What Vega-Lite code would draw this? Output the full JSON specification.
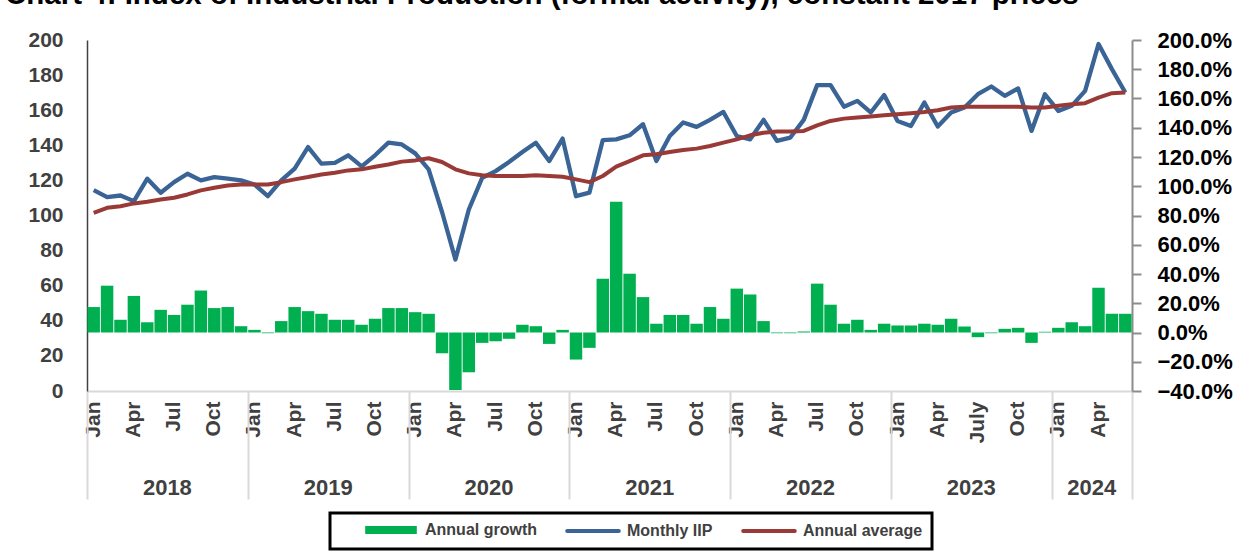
{
  "$schema": "https://vega.github.io/schema/vega-lite/v6.json",
  "width": 1045,
  "height": 351,
  "autosize": "none",
  "padding": {"left": 87, "top": 40, "right": 112, "bottom": 168},
  "background": "white",
  "title": {
    "text": "Chart 4: Index of Industrial Production (formal activity), constant 2017 prices",
    "anchor": "start", "frame": "group", "dx": -82, "dy": 12, "offset": 8,
    "baseline": "alphabetic", "font": "Liberation Sans", "fontSize": 29.5, "fontWeight": "bold", "color": "#000000"
  },
  "config": {"view": {"stroke": null}, "font": "Liberation Sans", "axis": {"grid": false}},
  "data": {"values": [
    {"k":"2018-01","iip":114.5,"avg":101.5,"g":17.4},
    {"k":"2018-02","iip":110.5,"avg":104.4,"g":32},
    {"k":"2018-03","iip":111.4,"avg":105.3,"g":8.7},
    {"k":"2018-04","iip":108.2,"avg":106.9,"g":25},
    {"k":"2018-05","iip":121,"avg":107.8,"g":7},
    {"k":"2018-06","iip":113,"avg":109.1,"g":15.5},
    {"k":"2018-07","iip":119,"avg":110.1,"g":12},
    {"k":"2018-08","iip":123.8,"avg":112,"g":19},
    {"k":"2018-09","iip":120,"avg":114.3,"g":28.7},
    {"k":"2018-10","iip":121.9,"avg":115.8,"g":16.7},
    {"k":"2018-11","iip":121,"avg":117.1,"g":17.4},
    {"k":"2018-12","iip":120,"avg":117.7,"g":4.3},
    {"k":"2019-01","iip":117.7,"avg":117.7,"g":1.8},
    {"k":"2019-02","iip":111,"avg":117.7,"g":-0.5},
    {"k":"2019-03","iip":120,"avg":119,"g":7.8},
    {"k":"2019-04","iip":126.7,"avg":120.6,"g":17.4},
    {"k":"2019-05","iip":139,"avg":121.9,"g":14.6},
    {"k":"2019-06","iip":129.5,"avg":123.4,"g":12.8},
    {"k":"2019-07","iip":130,"avg":124.4,"g":8.7},
    {"k":"2019-08","iip":134.3,"avg":125.7,"g":8.7},
    {"k":"2019-09","iip":128,"avg":126.3,"g":5.3},
    {"k":"2019-10","iip":134.3,"avg":127.8,"g":9.4},
    {"k":"2019-11","iip":141.5,"avg":129.1,"g":16.7},
    {"k":"2019-12","iip":140.5,"avg":130.7,"g":16.7},
    {"k":"2020-01","iip":135.4,"avg":131.4,"g":13.9},
    {"k":"2020-02","iip":126.3,"avg":132.6,"g":12.8},
    {"k":"2020-03","iip":102,"avg":130.5,"g":-14.2},
    {"k":"2020-04","iip":74.9,"avg":126.3,"g":-39.3},
    {"k":"2020-05","iip":103.4,"avg":124,"g":-27.2},
    {"k":"2020-06","iip":121.5,"avg":122.9,"g":-7.1},
    {"k":"2020-07","iip":125.3,"avg":122.5,"g":-6},
    {"k":"2020-08","iip":130.5,"avg":122.5,"g":-4.3},
    {"k":"2020-09","iip":136.2,"avg":122.5,"g":5.3},
    {"k":"2020-10","iip":141.5,"avg":123,"g":4.3},
    {"k":"2020-11","iip":131,"avg":122.5,"g":-7.8},
    {"k":"2020-12","iip":143.8,"avg":122.1,"g":1.8},
    {"k":"2021-01","iip":111,"avg":120.6,"g":-18.5},
    {"k":"2021-02","iip":113,"avg":119,"g":-10.5},
    {"k":"2021-03","iip":143,"avg":122.5,"g":36.8},
    {"k":"2021-04","iip":143.4,"avg":127.8,"g":89.4},
    {"k":"2021-05","iip":145.7,"avg":131,"g":40.2},
    {"k":"2021-06","iip":152,"avg":134.3,"g":24.2},
    {"k":"2021-07","iip":131,"avg":134.9,"g":6},
    {"k":"2021-08","iip":145.3,"avg":136.2,"g":12},
    {"k":"2021-09","iip":153,"avg":137.3,"g":12},
    {"k":"2021-10","iip":150.5,"avg":138.1,"g":6},
    {"k":"2021-11","iip":154.5,"avg":139.6,"g":17.4},
    {"k":"2021-12","iip":159,"avg":141.5,"g":9.4},
    {"k":"2022-01","iip":145.3,"avg":143.4,"g":30},
    {"k":"2022-02","iip":143.4,"avg":145.7,"g":26},
    {"k":"2022-03","iip":154.5,"avg":147.2,"g":7.8},
    {"k":"2022-04","iip":142.5,"avg":147.8,"g":-0.5},
    {"k":"2022-05","iip":144.4,"avg":147.8,"g":-0.5},
    {"k":"2022-06","iip":154.5,"avg":148.2,"g":0.7},
    {"k":"2022-07","iip":174.3,"avg":151.4,"g":33.4},
    {"k":"2022-08","iip":174.3,"avg":153.9,"g":19},
    {"k":"2022-09","iip":162,"avg":155.2,"g":6},
    {"k":"2022-10","iip":165.3,"avg":155.8,"g":8.7},
    {"k":"2022-11","iip":158.7,"avg":156.4,"g":1.8},
    {"k":"2022-12","iip":168.6,"avg":157.1,"g":6},
    {"k":"2023-01","iip":153.9,"avg":157.7,"g":4.8},
    {"k":"2023-02","iip":151,"avg":158.3,"g":4.8},
    {"k":"2023-03","iip":164.4,"avg":159,"g":6},
    {"k":"2023-04","iip":150.7,"avg":160,"g":5.3},
    {"k":"2023-05","iip":158.7,"avg":161.5,"g":9.4},
    {"k":"2023-06","iip":161.5,"avg":161.9,"g":4.1},
    {"k":"2023-07","iip":169.1,"avg":161.9,"g":-3.2},
    {"k":"2023-08","iip":173.5,"avg":161.9,"g":-0.5},
    {"k":"2023-09","iip":168.2,"avg":161.9,"g":2.5},
    {"k":"2023-10","iip":172.4,"avg":161.9,"g":3.2},
    {"k":"2023-11","iip":148.2,"avg":161.5,"g":-7.1},
    {"k":"2023-12","iip":169.1,"avg":161.5,"g":0.5},
    {"k":"2024-01","iip":159.6,"avg":162.5,"g":3.2},
    {"k":"2024-02","iip":162.5,"avg":163.4,"g":7},
    {"k":"2024-03","iip":171,"avg":164,"g":4.3},
    {"k":"2024-04","iip":197.7,"avg":167.2,"g":30.6},
    {"k":"2024-05","iip":183.4,"avg":169.7,"g":12.8},
    {"k":"2024-06","iip":170.1,"avg":170.1,"g":12.8}
  ]},
  "layer": [
    {
      "mark": {"type": "bar", "width": {"band": 0.93}},
      "encoding": {
        "x": {"field": "k", "type": "nominal", "sort": "ascending",
          "scale": {"type": "band", "paddingInner": 0, "paddingOuter": 0},
          "axis": {"orient": "bottom", "title": null, "labelAngle": -90, "ticks": false, "domain": true, "domainColor": "#d9d9d9", "domainWidth": 2,
            "labelOverlap": false, "labelFontSize": 21, "labelFontWeight": "bold", "labelColor": "#404040", "labelPadding": 10,
            "labelExpr": "datum.value == '2023-07' ? 'July' : (slice(datum.value,5) == '01' ? 'Jan' : slice(datum.value,5) == '04' ? 'Apr' : slice(datum.value,5) == '07' ? 'Jul' : slice(datum.value,5) == '10' ? 'Oct' : '')"}},
        "y": {"field": "g", "type": "quantitative", "scale": {"domain": [-40, 200], "nice": false, "zero": true},
          "axis": {"orient": "right", "title": null, "values": [-40,-20,0,20,40,60,80,100,120,140,160,180,200],
            "tickSize": 9, "tickColor": "#8c8c8c", "tickWidth": 2, "domainColor": "#8c8c8c", "domainWidth": 2,
            "labelExpr": "format(datum.value, '.1f') + '%'", "labelFontSize": 22, "labelFontWeight": "bold", "labelColor": "#000000", "labelPadding": 16}},
        "color": {"datum": "Annual growth", "type": "nominal",
          "scale": {"domain": ["Annual growth", "Monthly IIP", "Annual average"], "range": ["#00b050", "#3a6496", "#9a3a36"]},
          "legend": {"title": null, "orient": "none", "legendX": 243, "legendY": 473, "direction": "horizontal",
            "symbolType": "M-4.3,0H4.3", "symbolSize": 144, "symbolStrokeWidth": 4,
            "labelFontSize": 16, "labelFontWeight": "bold", "labelColor": "#404040", "labelOffset": 26,
            "columnPadding": 4, "symbolOffset": 44, "padding": 9, "strokeColor": "black", "fillColor": "white",
            "encode": {
              "legend": {"update": {"strokeWidth": {"value": 3}}},
              "symbols": {"update": {
                "shape": {"signal": "datum.value === 'Annual growth' ? 'M-4.3,-0.33H4.3M-4.3,0.33H4.3' : 'M-4.3,0H4.3'"},
                "stroke": {"scale": "color", "field": "value"},
                "strokeCap": {"signal": "datum.value === 'Annual growth' ? 'butt' : 'round'"}}}}}}
      }
    },
    {
      "mark": {"type": "line", "strokeWidth": 4.3, "strokeJoin": "round"},
      "encoding": {
        "x": {"field": "k", "type": "nominal", "sort": "ascending",
          "axis": {"orient": "bottom", "title": null, "labelAngle": 0, "ticks": false, "domain": false, "labelOverlap": false, "labelOffset": 6.7,
            "labelFontSize": 22, "labelFontWeight": "bold", "labelColor": "#404040", "labelPadding": 86,
            "labelExpr": "((slice(datum.value,5) == '06' && slice(datum.value,0,4) != '2024') || datum.value == '2024-03') ? slice(datum.value,0,4) : ''"}},
        "y": {"field": "iip", "type": "quantitative", "scale": {"domain": [0, 200], "nice": false},
          "axis": {"orient": "left", "title": null, "values": [0,20,40,60,80,100,120,140,160,180,200], "ticks": false,
            "domainColor": "#404040", "domainWidth": 1.5, "labelFontSize": 21, "labelFontWeight": "bold", "labelColor": "#404040", "labelPadding": 24}},
        "color": {"datum": "Monthly IIP", "type": "nominal"}
      }
    },
    {
      "mark": {"type": "line", "strokeWidth": 4, "strokeJoin": "round"},
      "encoding": {
        "x": {"field": "k", "type": "nominal", "sort": "ascending",
          "axis": {"orient": "bottom", "title": null, "labels": false, "domain": false, "ticks": true, "tickBand": "extent", "tickSize": 108, "tickColor": "#d9d9d9", "tickWidth": 2,
            "tickOpacity": {"condition": {"test": "datum.value === '2018-01' && datum.index >= 0", "value": 0}, "value": 1},
            "values": ["2018-01","2018-12","2019-12","2020-12","2021-12","2022-12","2023-12","2024-06"]}},
        "y": {"field": "avg", "type": "quantitative", "scale": {"domain": [0, 200], "nice": false}, "axis": null},
        "color": {"datum": "Annual average", "type": "nominal"}
      }
    }
  ],
  "resolve": {"scale": {"y": "independent"}, "axis": {"x": "independent"}}
}
